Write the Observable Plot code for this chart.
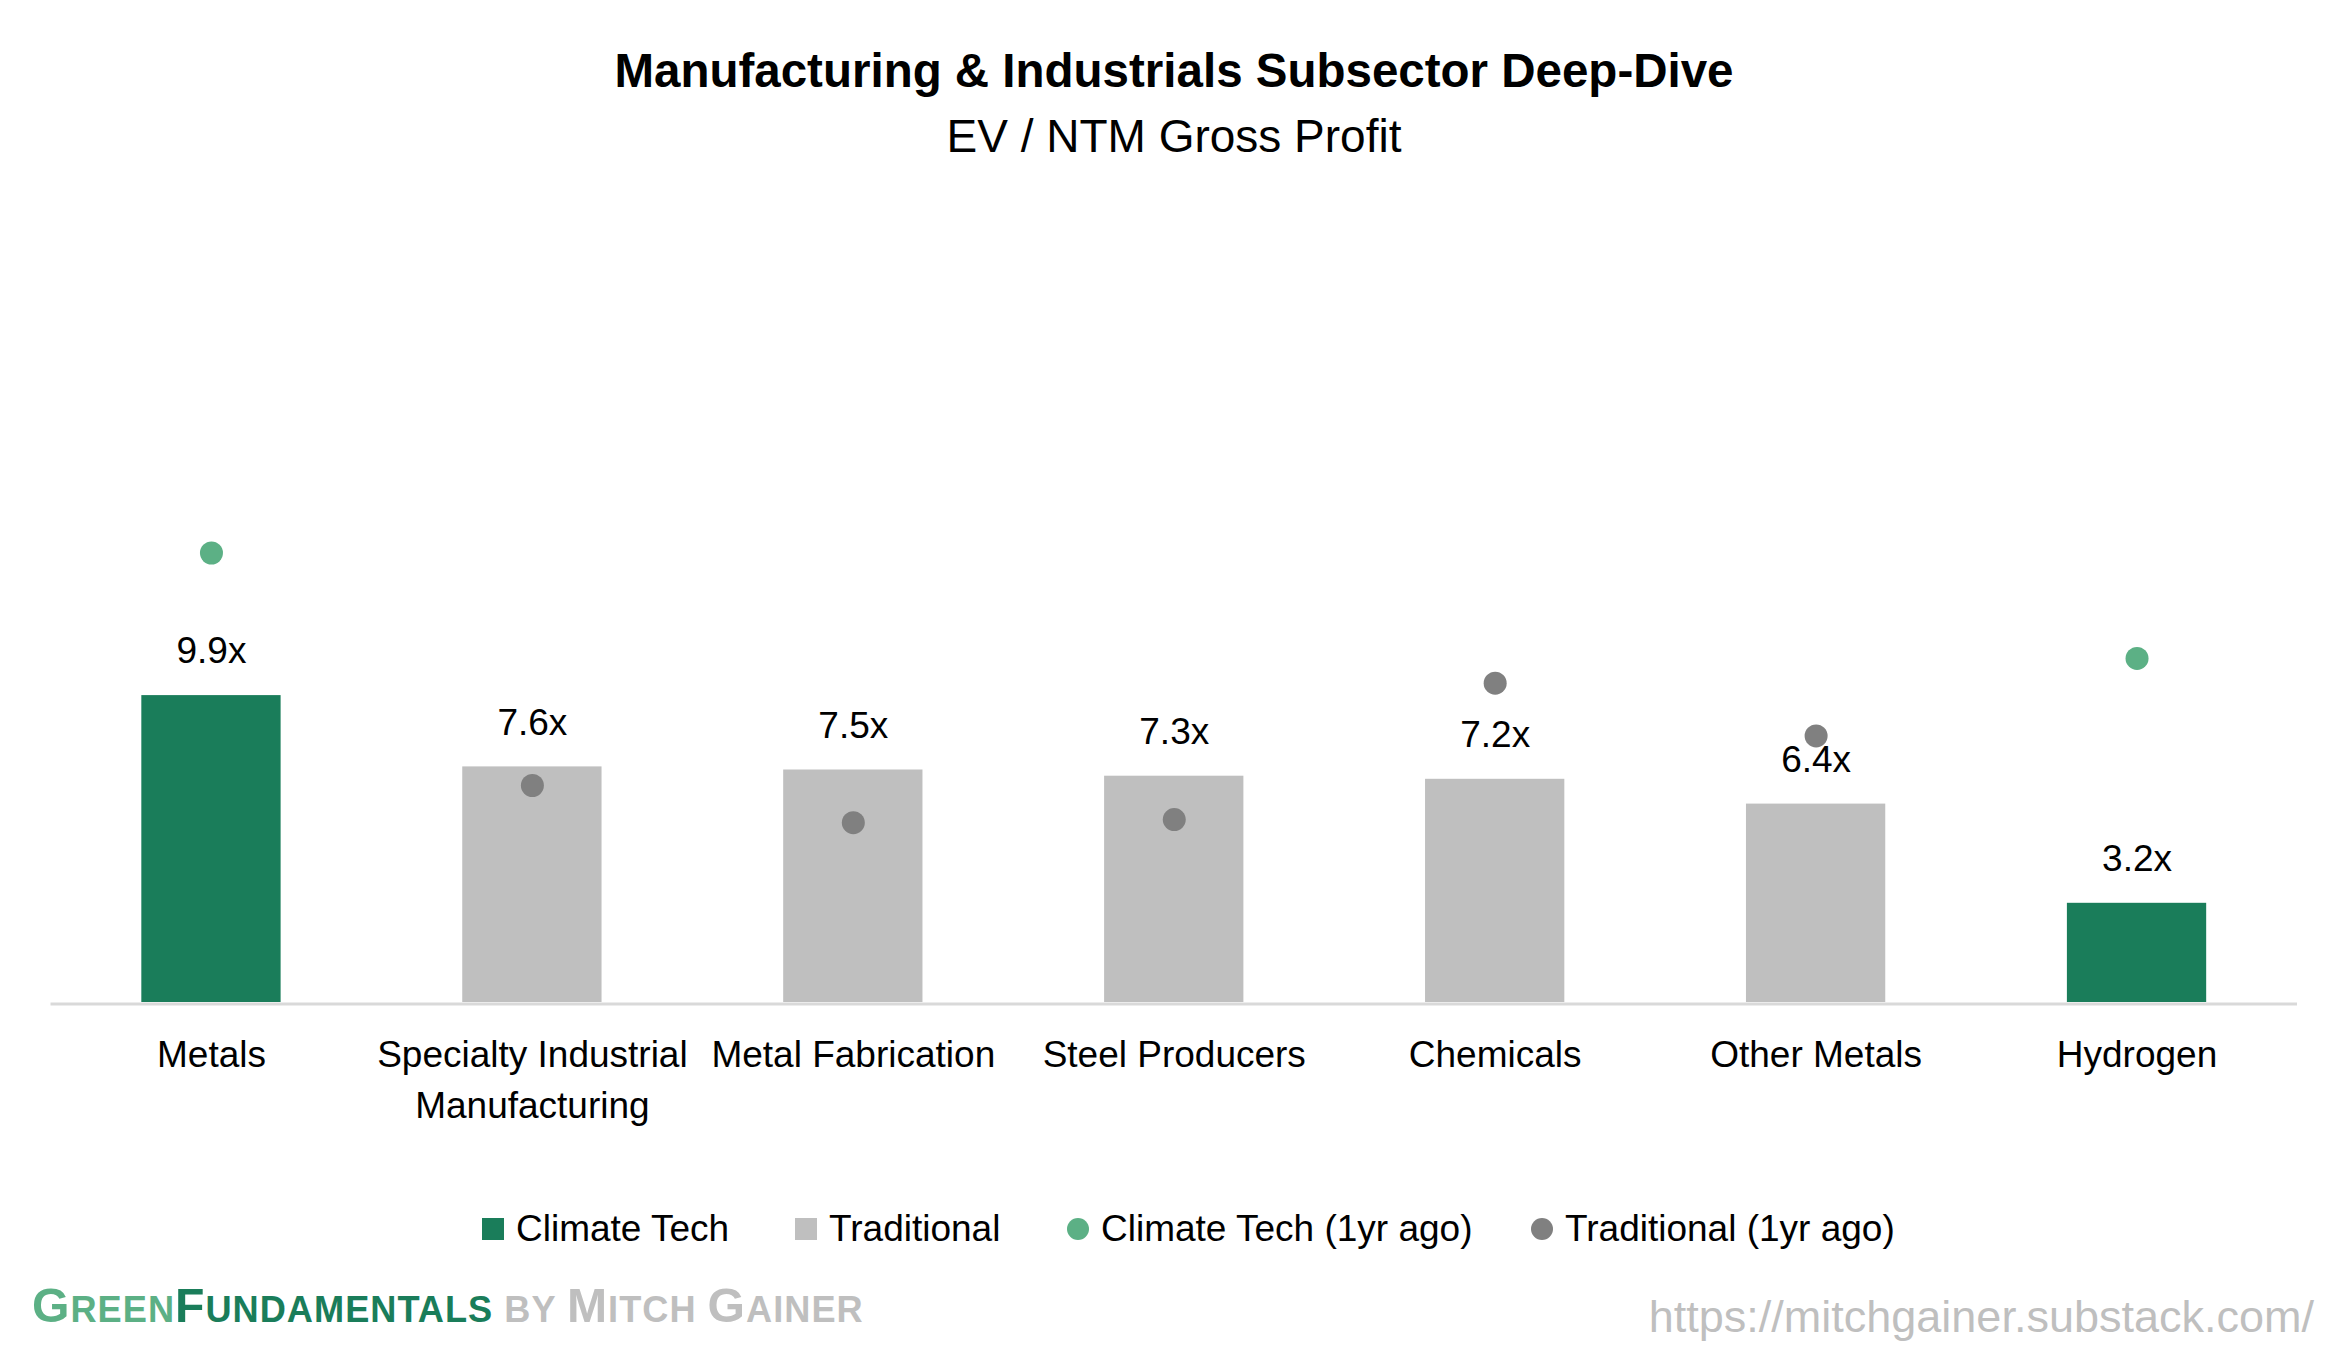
<!DOCTYPE html>
<html>
<head>
<meta charset="utf-8">
<script src="https://cdn.jsdelivr.net/npm/d3@7"></script>
<script src="https://cdn.jsdelivr.net/npm/@observablehq/plot@0.6"></script>
<style>
  html, body { margin: 0; padding: 0; background: #ffffff; }
  body { width: 2348px; height: 1353px; position: relative; overflow: hidden; font-family: "Liberation Sans", Arial, sans-serif; color: #000; }
  .abs { position: absolute; white-space: nowrap; line-height: 1; }
  #title { top: 46.5px; left: 0; width: 2348px; text-align: center; font-size: 47.5px; font-weight: bold; }
  #subtitle { top: 113px; left: 0; width: 2348px; text-align: center; font-size: 46px; }
  #chart { position: absolute; top: 180px; left: 0; }
  #legend { top: 1210px; left: 0; width: 2348px; height: 37px; font-size: 37px; }
  #legend .item { position: absolute; top: 0; display: flex; align-items: center; white-space: nowrap; }
  #legend .sw { width: 22px; height: 22px; margin-right: 12px; }
  #legend .sw.circle { border-radius: 50%; }
  #brand { top: 1281px; left: 32px; font-size: 48.2px; font-weight: bold; letter-spacing: 1.0px; }
  #brand .sm { font-size: 36.2px; }
  #url { top: 1294px; right: 34px; font-size: 45px; color: #bfbfbf; }
</style>
</head>
<body>
<div id="title" class="abs">Manufacturing &amp; Industrials Subsector Deep-Dive</div>
<div id="subtitle" class="abs">EV / NTM Gross Profit</div>
<div id="chart"></div>
<div id="legend" class="abs"></div>
<div id="brand" class="abs"><span style="color:#5cb085">G<span class="sm">REEN</span></span><span style="color:#1a7d5a">F<span class="sm">UNDAMENTALS</span></span><span style="color:#bfbfbf"><span class="sm"> BY </span>M<span class="sm">ITCH </span>G<span class="sm">AINER</span></span></div>
<div id="url" class="abs">https://mitchgainer.substack.com/</div>
<script>
// ---- Data ----
const categories = ["Metals", "Specialty Industrial Manufacturing", "Metal Fabrication", "Steel Producers", "Chemicals", "Other Metals", "Hydrogen"];
const tickLabels = ["Metals", "Specialty Industrial\nManufacturing", "Metal Fabrication", "Steel Producers", "Chemicals", "Other Metals", "Hydrogen"];
const groups = ["Climate Tech", "Traditional", "Traditional", "Traditional", "Traditional", "Traditional", "Climate Tech"];
const currentMultiple = [9.9, 7.6, 7.5, 7.3, 7.2, 6.4, 3.2];
const yearAgoMultiple = [14.5, 7.0, 5.8, 5.9, 10.3, 8.6, 11.1];

const seriesNames = ["Climate Tech", "Traditional", "Climate Tech (1yr ago)", "Traditional (1yr ago)"];
const seriesColors = ["#1a7d5a", "#bfbfbf", "#5cb085", "#808080"];
const seriesShapes = ["square", "square", "circle", "circle"];

const rows = categories.map((c, i) => ({
  name: c,
  label: tickLabels[i],
  group: groups[i],
  groupAgo: groups[i] + " (1yr ago)",
  value: currentMultiple[i],
  ago: yearAgoMultiple[i]
}));
const labelOf = new Map(rows.map(d => [d.name, d.label]));

const chart = Plot.plot({
  width: 2348,
  height: 960,
  marginTop: 357,
  marginBottom: 138,
  marginLeft: 50.5,
  marginRight: 51,
  style: { fontFamily: "Liberation Sans, Arial, sans-serif", fontSize: "37px", color: "#000", background: "transparent" },
  x: { domain: categories, paddingInner: 0.566, paddingOuter: 0.283, round: false, label: null },
  y: { domain: [0, 15], axis: null, label: null },
  color: { domain: seriesNames, range: seriesColors },
  marks: [
    Plot.barY(rows, { x: "name", y: "value", fill: "group" }),
    Plot.ruleY([0], { stroke: "#d9d9d9", strokeWidth: 3, dy: 1.5 }),
    Plot.dot(rows, { x: "name", y: "ago", r: 11.5, fill: "groupAgo", stroke: "none" }),
    Plot.text(rows, { x: "name", y: "value", text: d => d.value.toFixed(1) + "x", dy: -44, lineAnchor: "middle", fontSize: 37, fill: "#000" }),
    Plot.axisX({ tickSize: 0, tickPadding: 28.5, fontSize: 37, lineHeight: 51 / 37, tickFormat: d => labelOf.get(d), label: null, fill: "#000" })
  ]
});
document.getElementById("chart").appendChild(chart);

// ---- Legend (HTML, below the SVG) ----
const legendLeft = [482, 795, 1067, 1531]; // layout positions of each legend item
const legend = document.getElementById("legend");
seriesNames.forEach((name, i) => {
  const item = document.createElement("div");
  item.className = "item";
  item.style.left = legendLeft[i] + "px";
  const sw = document.createElement("div");
  sw.className = "sw" + (seriesShapes[i] === "circle" ? " circle" : "");
  sw.style.background = seriesColors[i];
  const tx = document.createElement("span");
  tx.textContent = name;
  item.appendChild(sw);
  item.appendChild(tx);
  legend.appendChild(item);
});
</script>
</body>
</html>
